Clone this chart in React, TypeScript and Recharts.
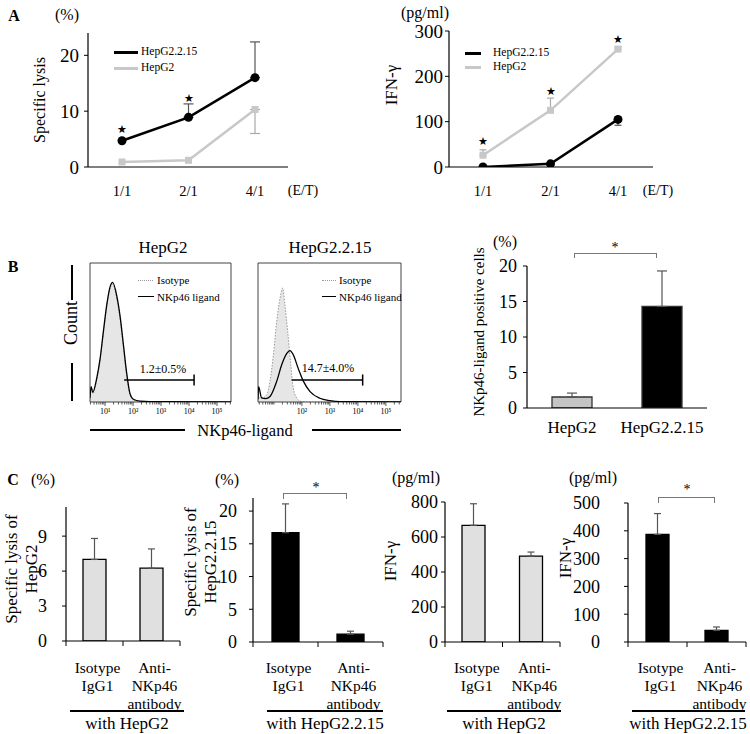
import React from "react";
import {
  ComposedChart,
  Line,
  Bar,
  Area,
  Scatter,
  Cell,
  XAxis,
  YAxis,
  ErrorBar,
  ReferenceArea,
  ReferenceLine,
} from "recharts";

const FONT = '"Liberation Serif", "Times New Roman", serif';
const GRAY = "#c8c8c8";

// ---------- A: specific lysis and IFN-γ by E/T ratio ----------
const ratios = ["1/1", "2/1", "4/1"];
const lysisHepG2215 = [4.7, 8.9, 16.0];
const lysisHepG2215Up = [null, 2.4, 6.4];
const lysisHepG2 = [0.9, 1.2, 10.3];
const lysisHepG2Down = [null, null, 4.3];
const lysisStars = [6.8, 12.4, null];
const lysisTicks = [0, 10, 20];

const ifnHepG2215 = [0, 7, 105];
const ifnHepG2215Down = [null, null, 13];
const ifnHepG2 = [26, 125, 260];
const ifnHepG2Up = [12, 27, 5];
const ifnStars = [57, 168, 282];
const ifnTicks = [0, 100, 200, 300];

// ---------- B: NKp46-ligand histograms (x = log10 intensity, y = % of max) ----------
const h1IsoX = [0.46, 0.5, 0.56, 0.7, 0.82, 0.94, 1.06, 1.18, 1.27, 1.42, 1.54, 1.65, 1.77, 1.89, 2.01, 2.25, 3.0, 5.5];
const h1IsoY = [2, 9, 6, 16, 30, 50, 69, 82, 85, 74, 59, 40, 19, 5, 1.5, 0.4, 0.1, 0];
const h1LigX = [0.46, 0.5, 0.56, 0.7, 0.82, 0.94, 1.06, 1.18, 1.27, 1.42, 1.54, 1.65, 1.77, 1.89, 2.01, 2.25, 3.0, 5.5];
const h1LigY = [3, 11, 7, 17, 31, 51, 70, 83, 86, 76, 61, 42, 21, 6, 2, 0.7, 0.2, 0];
const h2IsoX = [0.43, 0.48, 0.6, 0.74, 0.86, 0.98, 1.1, 1.22, 1.31, 1.39, 1.49, 1.6, 1.69, 1.81, 1.93, 2.2, 5.54];
const h2IsoY = [6, 3, 3, 5, 15, 34, 58, 75, 82, 70, 51, 27, 10, 3, 0.7, 0, 0];
const h2LigX = [0.43, 0.45, 0.56, 0.7, 0.86, 1.1, 1.28, 1.46, 1.57, 1.69, 1.87, 2.05, 2.29, 2.64, 3.0, 3.36, 5.54];
const h2LigY = [2, 11, 3, 2.5, 4, 15, 27, 35, 37, 34, 24, 15, 7.5, 2.7, 1, 0.3, 0];
const h1Gate = [1.68, 4.18];
const h2Gate = [1.63, 4.17];
const gateLevel = 15.8;
const h1Majors = [1, 2, 3, 4, 5];
const h2Majors = [2, 3, 4, 5];
const decadeLabels = ["10⁰", "10¹", "10²", "10³", "10⁴", "10⁵"];

// ---------- B: positive cells ----------
const bCats = ["HepG2", "HepG2.2.15"];
const bVals = [1.55, 14.3];
const bErr = [0.55, 5.0];
const bTicks = [0, 5, 10, 15, 20];

// ---------- C: blocking with anti-NKp46 ----------
const cCats = ["Isotype\nIgG1", "Anti-\nNKp46\nantibody"];
const c1Vals = [7.0, 6.25];
const c1Err = [1.8, 1.65];
const c2Vals = [16.7, 1.2];
const c2Err = [4.4, 0.45];
const c3Vals = [667, 491];
const c3Err = [123, 23];
const c4Vals = [387, 42];
const c4Err = [75, 12];

type Rect = { x: number; y: number; w: number; h: number };
const PAD_L = 70;
const PAD_T = 14;
const PAD_R = 14;

function box(r: Rect, padB: number) {
  return {
    left: r.x - PAD_L,
    top: r.y - PAD_T,
    width: r.w + PAD_L + PAD_R,
    height: r.h + PAD_T + padB,
    margin: { top: PAD_T, right: PAD_R, bottom: 0, left: 0 },
  };
}

const lineRows = (black: number[], bDown: any[], bUp: any[], gray: number[], gDown: any[], gUp: any[], stars: any[]) =>
  ratios.map((r, i) => ({
    ratio: r,
    black: black[i],
    blackErr: bDown[i] == null && bUp[i] == null ? null : [bDown[i] || 0, bUp[i] || 0],
    gray: gray[i],
    grayErr: gDown[i] == null && gUp[i] == null ? null : [gDown[i] || 0, gUp[i] || 0],
    star: stars[i],
  }));

const lysisRows = lineRows(lysisHepG2215, [null, null, null], lysisHepG2215Up, lysisHepG2, lysisHepG2Down, [null, null, null], lysisStars);
const ifnRows = lineRows(ifnHepG2215, ifnHepG2215Down, [null, null, null], ifnHepG2, [null, null, null], ifnHepG2Up, ifnStars);

const barRows = (cats: string[], vals: number[], errs: number[]) =>
  cats.map((c, i) => ({ cat: c, v: vals[i], err: [0, errs[i]] }));

function mergeHist(isoX: number[], isoY: number[], ligX: number[], ligY: number[]) {
  const rows: Record<string, any> = {};
  isoX.forEach((x, i) => (rows[x] = { ...(rows[x] || { x }), iso: isoY[i] }));
  ligX.forEach((x, i) => (rows[x] = { ...(rows[x] || { x }), lig: ligY[i] }));
  return Object.values(rows).sort((a: any, b: any) => a.x - b.x);
}

// ---------- small helpers ----------
type TxtProps = {
  x: number;
  y: number;
  size?: number;
  anchor?: "start" | "middle" | "end";
  rot?: boolean;
  bold?: boolean;
  children: React.ReactNode;
};
const Txt = ({ x, y, size = 16, anchor = "middle", rot = false, bold = false, children }: TxtProps) => {
  const tx = anchor === "start" ? "0" : anchor === "end" ? "-100%" : "-50%";
  return (
    <div
      style={{
        position: "absolute",
        left: x,
        top: y,
        fontSize: size,
        lineHeight: 1.15,
        whiteSpace: "nowrap",
        textAlign: "center",
        fontWeight: bold ? 700 : 400,
        transform: `translate(${tx},-50%)${rot ? " rotate(-90deg)" : ""}`,
      }}
    >
      {children}
    </div>
  );
};

const HLine = ({ x1, x2, y, t = 2, c = "#000" }: any) => (
  <div style={{ position: "absolute", left: x1, top: y - t / 2, width: x2 - x1, height: t, background: c }} />
);
const VLine = ({ x, y1, y2, t = 2 }: any) => (
  <div style={{ position: "absolute", left: x - t / 2, top: y1, width: t, height: y2 - y1, background: "#000" }} />
);
const Bracket = ({ x1, x2, y, h }: any) => (
  <div
    style={{
      position: "absolute",
      left: x1,
      top: y,
      width: x2 - x1,
      height: h,
      borderTop: "1px solid #777",
      borderLeft: "1px solid #777",
      borderRight: "1px solid #777",
      boxSizing: "border-box",
    }}
  />
);

const CatTick = (p: any) => {
  const { x, payload, index, base, band, dy, size, boundary, lh } = p;
  const lines = String(payload.value).split("\n");
  const tx = x + (boundary ? 3 : 0);
  return (
    <g>
      {boundary && <line x1={x + band / 2} x2={x + band / 2} y1={base} y2={base + 5} stroke="#000" />}
      {boundary && index === 0 && <line x1={x - band / 2} x2={x - band / 2} y1={base} y2={base + 5} stroke="#000" />}
      <text x={tx} y={base + dy} textAnchor="middle" dominantBaseline="central" fontSize={size} fill="#000">
        {lines.map((t, i) => (
          <tspan key={i} x={tx} dy={i === 0 ? 0 : lh}>
            {t}
          </tspan>
        ))}
      </text>
    </g>
  );
};

const LogTick = (p: any) => {
  const { x, payload, base, majors } = p;
  const v = payload.value;
  const major = majors.indexOf(v) >= 0;
  return (
    <g>
      <line x1={x} x2={x} y1={base} y2={base + (major ? 4 : 2.5)} stroke="#333" strokeWidth={0.8} />
      {major && (
        <text x={x} y={base + 9} textAnchor="middle" dominantBaseline="central" fontSize={8} fill="#000">
          {decadeLabels[v]}
        </text>
      )}
    </g>
  );
};

const StarShape = (p: any) =>
  p.payload == null || p.payload.star == null ? (
    <g />
  ) : (
    <text x={p.cx} y={p.cy} textAnchor="middle" dominantBaseline="central" fontSize={11} fill="#000">
      ★
    </text>
  );

const SquareDot = (p: any) => (
  <rect key={"sq" + p.index} x={p.cx - 3.5} y={p.cy - 3.5} width={7} height={7} fill={GRAY} />
);

// ---------- panels ----------
function LinePanel({ r, data, domain, ticks, padding, tickMargin, errW, yFont }: any) {
  const b = box(r, 40);
  const base = PAD_T + r.h;
  return (
    <div style={{ position: "absolute", left: b.left, top: b.top }}>
      <ComposedChart width={b.width} height={b.height} margin={b.margin} data={data}>
        <XAxis
          dataKey="ratio"
          scale="point"
          padding={padding}
          height={40}
          interval={0}
          axisLine={{ stroke: "#000", strokeWidth: 1.2 }}
          tickLine={false}
          tick={(p: any) => <CatTick {...p} base={base} band={0} dy={24} size={14.5} lh={17} boundary={false} />}
        />
        <YAxis
          width={PAD_L}
          domain={domain}
          ticks={ticks}
          interval={0}
          allowDataOverflow
          axisLine={{ stroke: "#000", strokeWidth: 1.2 }}
          tickLine={{ stroke: "#000" }}
          tickSize={4}
          tickMargin={tickMargin}
          tick={{ fill: "#000", fontSize: yFont }}
        />
        <Line dataKey="gray" stroke={GRAY} strokeWidth={2.5} dot={SquareDot} isAnimationActive={false}>
          <ErrorBar dataKey="grayErr" width={errW} stroke="#aaa" strokeWidth={1.2} direction="y" />
        </Line>
        <Line
          dataKey="black"
          stroke="#000"
          strokeWidth={2.5}
          dot={{ r: 4.5, fill: "#000", stroke: "#000", strokeWidth: 0 }}
          isAnimationActive={false}
        >
          <ErrorBar dataKey="blackErr" width={errW} stroke="#555" strokeWidth={1.2} direction="y" />
        </Line>
        <Scatter dataKey="star" shape={StarShape} isAnimationActive={false} />
      </ComposedChart>
    </div>
  );
}

function HistPanel({ r, rows, domain, majors, gate }: any) {
  const b = box(r, 30);
  const base = PAD_T + r.h;
  const allTicks: number[] = [];
  [0, 1, 2, 3, 4, 5].forEach((d) => {
    [1, 2, 3, 4, 5, 6, 7, 8, 9].forEach((k) => {
      const t = k === 1 ? d : d + Math.log10(k);
      if (t >= domain[0] && t <= domain[1]) allTicks.push(t);
    });
  });
  return (
    <div style={{ position: "absolute", left: b.left, top: b.top }}>
      <ComposedChart width={b.width} height={b.height} margin={b.margin} data={rows}>
        <XAxis
          type="number"
          dataKey="x"
          domain={domain}
          allowDataOverflow
          ticks={allTicks}
          interval={0}
          height={30}
          axisLine={false}
          tickLine={false}
          tick={(p: any) => <LogTick {...p} base={base} majors={majors} />}
        />
        <YAxis width={PAD_L} domain={[0, 100]} allowDataOverflow axisLine={false} tickLine={false} tick={false} />
        <Area
          dataKey="iso"
          type="monotone"
          stroke="#999"
          strokeWidth={1}
          strokeDasharray="1.5 1.5"
          fill="#e6e6e6"
          fillOpacity={1}
          connectNulls
          dot={false}
          isAnimationActive={false}
        />
        <Line
          dataKey="lig"
          type="monotone"
          stroke="#000"
          strokeWidth={1.3}
          connectNulls
          dot={false}
          isAnimationActive={false}
        />
        <ReferenceArea x1={domain[0]} x2={domain[1]} y1={0} y2={100} fill="#fff" fillOpacity={0} stroke="#444" strokeWidth={1} ifOverflow="visible" />
        <ReferenceLine
          segment={[{ x: gate[0], y: gateLevel }, { x: gate[1], y: gateLevel }]}
          stroke="#000"
          strokeWidth={1.5}
          ifOverflow="visible"
        />
        <ReferenceLine
          segment={[{ x: gate[1], y: gateLevel - 4 }, { x: gate[1], y: gateLevel + 4 }]}
          stroke="#000"
          strokeWidth={1.5}
          ifOverflow="visible"
        />
      </ComposedChart>
    </div>
  );
}

function BarPanel({ r, data, domain, ticks, fills, barSize, tickMargin, dy, labelSize, lh, boundary, errW, yFont, stroke }: any) {
  const b = box(r, 80);
  const base = PAD_T + r.h;
  const band = r.w / data.length;
  return (
    <div style={{ position: "absolute", left: b.left, top: b.top }}>
      <ComposedChart width={b.width} height={b.height} margin={b.margin} data={data}>
        <XAxis
          dataKey="cat"
          scale="band"
          height={80}
          interval={0}
          axisLine={{ stroke: "#000", strokeWidth: 1.2 }}
          tickLine={false}
          tick={(p: any) => <CatTick {...p} base={base} band={band} dy={dy} size={labelSize} lh={lh} boundary={boundary} />}
        />
        <YAxis
          width={PAD_L}
          domain={domain}
          ticks={ticks}
          interval={0}
          allowDataOverflow
          axisLine={{ stroke: "#000", strokeWidth: 1.2 }}
          tickLine={{ stroke: "#000" }}
          tickSize={4}
          tickMargin={tickMargin}
          tick={{ fill: "#000", fontSize: yFont }}
        />
        <Bar dataKey="v" barSize={barSize} stroke={stroke} strokeWidth={1.3} isAnimationActive={false}>
          {data.map((_: any, i: number) => (
            <Cell key={i} fill={fills[i]} />
          ))}
          <ErrorBar dataKey="err" width={errW} stroke="#555" strokeWidth={1.2} direction="y" />
        </Bar>
      </ComposedChart>
    </div>
  );
}

const LegendKey = ({ x1, x2, y, color, dotted, t }: any) => (
  <div
    style={{
      position: "absolute",
      left: x1,
      top: y - t / 2,
      width: x2 - x1,
      height: 0,
      borderTop: `${t}px ${dotted ? "dotted" : "solid"} ${color}`,
    }}
  />
);

const C_LABEL = 15.5;
const C_LH = 17.9;

export default function App() {
  return (
    <div
      style={{
        position: "absolute",
        left: 0,
        top: 0,
        width: 750,
        height: 734,
        overflow: "hidden",
        background: "#fff",
        color: "#000",
        fontFamily: FONT,
      }}
    >
      {/* ---------------- A ---------------- */}
      <Txt x={14} y={16} size={16} bold>A</Txt>
      <LinePanel
        r={{ x: 88, y: 33, w: 200, h: 134 }}
        data={lysisRows}
        domain={[0, 24]}
        ticks={lysisTicks}
        padding={{ left: 34, right: 33 }}
        tickMargin={5}
        errW={5}
        yFont={19}
      />
      <Txt x={67} y={15} size={16}>(%)</Txt>
      <Txt x={40} y={100} size={16} rot>Specific lysis</Txt>
      <Txt x={303} y={191} size={14}>(E/T)</Txt>
      <LegendKey x1={114} x2={138} y={52} color="#000" t={3} />
      <Txt x={141} y={52} size={11.5} anchor="start">HepG2.2.15</Txt>
      <LegendKey x1={114} x2={138} y={68} color={GRAY} t={3} />
      <Txt x={141} y={68} size={11.5} anchor="start">HepG2</Txt>

      <LinePanel
        r={{ x: 449, y: 31, w: 204, h: 136 }}
        data={ifnRows}
        domain={[0, 300]}
        ticks={ifnTicks}
        padding={{ left: 34, right: 35 }}
        tickMargin={2}
        errW={3.5}
        yFont={19}
      />
      <Txt x={425} y={13} size={16}>(pg/ml)</Txt>
      <Txt x={392} y={85} size={17} rot>IFN-γ</Txt>
      <Txt x={658} y={191} size={14}>(E/T)</Txt>
      <LegendKey x1={465} x2={481} y={53} color="#000" t={3} />
      <Txt x={493} y={53} size={11.5} anchor="start">HepG2.2.15</Txt>
      <LegendKey x1={465} x2={481} y={67} color={GRAY} t={3} />
      <Txt x={493} y={67} size={11.5} anchor="start">HepG2</Txt>

      {/* ---------------- B ---------------- */}
      <Txt x={13} y={267} size={16} bold>B</Txt>
      <Txt x={163} y={248} size={17}>HepG2</Txt>
      <Txt x={330} y={248} size={17}>HepG2.2.15</Txt>
      <HistPanel
        r={{ x: 90, y: 263, w: 141, h: 139 }}
        rows={mergeHist(h1IsoX, h1IsoY, h1LigX, h1LigY)}
        domain={[0.46, 5.5]}
        majors={h1Majors}
        gate={h1Gate}
      />
      <HistPanel
        r={{ x: 258, y: 263, w: 143, h: 139 }}
        rows={mergeHist(h2IsoX, h2IsoY, h2LigX, h2LigY)}
        domain={[0.43, 5.54]}
        majors={h2Majors}
        gate={h2Gate}
      />
      <LegendKey x1={138} x2={153} y={280} color="#999" dotted t={1} />
      <Txt x={157} y={280} size={11} anchor="start">Isotype</Txt>
      <LegendKey x1={138} x2={154} y={297} color="#000" t={1.3} />
      <Txt x={157} y={297} size={11} anchor="start">NKp46 ligand</Txt>
      <LegendKey x1={322} x2={336} y={280} color="#999" dotted t={1} />
      <Txt x={339} y={280} size={11} anchor="start">Isotype</Txt>
      <LegendKey x1={322} x2={336} y={297} color="#000" t={1.3} />
      <Txt x={339} y={297} size={11} anchor="start">NKp46 ligand</Txt>
      <Txt x={163} y={370} size={12}>1.2±0.5%</Txt>
      <Txt x={328} y={369} size={12}>14.7±4.0%</Txt>
      <Txt x={71} y={323} size={18} rot>Count</Txt>
      <VLine x={72} y1={265} y2={300} />
      <VLine x={72} y1={363} y2={401} />
      <Txt x={245} y={431} size={16.5}>NKp46-ligand</Txt>
      <HLine x1={90} x2={185} y={430} />
      <HLine x1={312} x2={401} y={430} />

      <BarPanel
        r={{ x: 527, y: 266, w: 180, h: 142 }}
        data={barRows(bCats, bVals, bErr)}
        domain={[0, 20]}
        ticks={bTicks}
        fills={["#c4c4c4", "#000"]}
        barSize={40}
        tickMargin={6}
        dy={19}
        labelSize={17}
        lh={18}
        boundary={false}
        errW={5}
        yFont={18}
        stroke="#333"
      />
      <Txt x={505} y={242} size={16}>(%)</Txt>
      <Txt x={480} y={332} size={15} rot>NKp46-ligand positive cells</Txt>
      <Bracket x1={574} x2={657} y={253} h={5} />
      <Txt x={615} y={248} size={14}>*</Txt>

      {/* ---------------- C ---------------- */}
      <Txt x={13} y={480} size={16} bold>C</Txt>
      <BarPanel
        r={{ x: 66, y: 507, w: 114, h: 134 }}
        data={barRows(cCats, c1Vals, c1Err)}
        domain={[0, 11.5]}
        ticks={[0, 3, 6, 9]}
        fills={["#e0e0e0", "#e0e0e0"]}
        barSize={23}
        tickMargin={15}
        dy={26}
        labelSize={C_LABEL}
        lh={C_LH}
        boundary
        errW={3.5}
        yFont={18}
        stroke="#000"
      />
      <Txt x={43} y={480} size={16}>(%)</Txt>
      <Txt x={22} y={569} size={17} rot>
        Specific lysis of
        <br />
        HepG2
      </Txt>
      <HLine x1={70} x2={184} y={711} />
      <Txt x={127} y={724} size={17}>with HepG2</Txt>

      <BarPanel
        r={{ x: 253, y: 498, w: 130, h: 144 }}
        data={barRows(cCats, c2Vals, c2Err)}
        domain={[0, 22]}
        ticks={[0, 5, 10, 15, 20]}
        fills={["#000", "#000"]}
        barSize={27}
        tickMargin={12}
        dy={25}
        labelSize={C_LABEL}
        lh={C_LH}
        boundary
        errW={3.5}
        yFont={18}
        stroke="#000"
      />
      <Txt x={227} y={480} size={16}>(%)</Txt>
      <Txt x={201} y={562} size={17} rot>
        Specific lysis of
        <br />
        HepG2.2.15
      </Txt>
      <Bracket x1={283} x2={347} y={493} h={6} />
      <Txt x={316} y={488} size={14}>*</Txt>
      <HLine x1={267} x2={383} y={711} />
      <Txt x={325} y={724} size={17}>with HepG2.2.15</Txt>

      <BarPanel
        r={{ x: 445, y: 502, w: 115, h: 140 }}
        data={barRows(cCats, c3Vals, c3Err)}
        domain={[0, 800]}
        ticks={[0, 200, 400, 600, 800]}
        fills={["#e0e0e0", "#e0e0e0"]}
        barSize={23}
        tickMargin={3}
        dy={25}
        labelSize={C_LABEL}
        lh={C_LH}
        boundary
        errW={3.5}
        yFont={18}
        stroke="#000"
      />
      <Txt x={416} y={478} size={16}>(pg/ml)</Txt>
      <Txt x={391} y={561} size={17} rot>IFN-γ</Txt>
      <HLine x1={447} x2={561} y={711} />
      <Txt x={504} y={724} size={17}>with HepG2</Txt>

      <BarPanel
        r={{ x: 628, y: 503, w: 118, h: 139 }}
        data={barRows(cCats, c4Vals, c4Err)}
        domain={[0, 500]}
        ticks={[0, 100, 200, 300, 400, 500]}
        fills={["#000", "#000"]}
        barSize={23}
        tickMargin={24}
        dy={25}
        labelSize={C_LABEL}
        lh={C_LH}
        boundary
        errW={3.5}
        yFont={18}
        stroke="#000"
      />
      <Txt x={593} y={478} size={16}>(pg/ml)</Txt>
      <Txt x={566} y={558} size={17} rot>IFN-γ</Txt>
      <Bracket x1={658} x2={715} y={497} h={6} />
      <Txt x={687} y={490} size={14}>*</Txt>
      <HLine x1={632} x2={745} y={711} />
      <Txt x={688} y={724} size={17}>with HepG2.2.15</Txt>
    </div>
  );
}
